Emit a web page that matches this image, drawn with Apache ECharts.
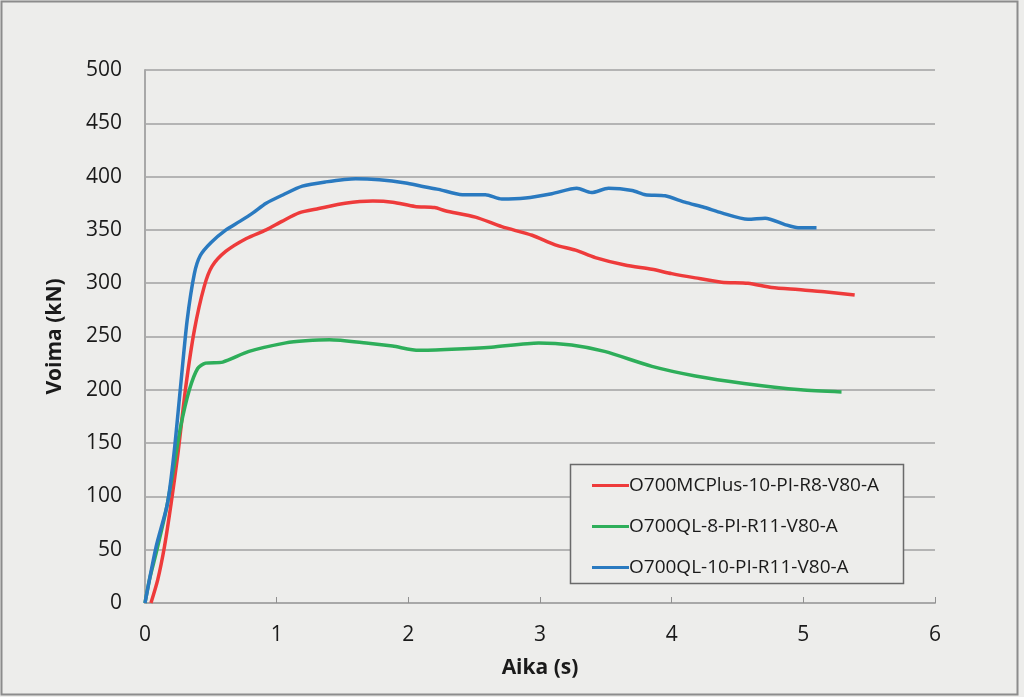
<!DOCTYPE html>
<html>
<head>
<meta charset="utf-8">
<script src="https://cdn.jsdelivr.net/npm/echarts@6/dist/echarts.min.js"></script>
<style>
html,body{margin:0;padding:0;background:#ededeb;}
#c{width:1024px;height:697px;}
</style>
</head>
<body>
<div id="c"></div>
<script>
var seriesNames = ['O700MCPlus-10-PI-R8-V80-A', 'O700QL-8-PI-R11-V80-A', 'O700QL-10-PI-R11-V80-A'];
var xTicks = [0, 1, 2, 3, 4, 5, 6];
var yTicks = [0, 50, 100, 150, 200, 250, 300, 350, 400, 450, 500];

var redT = [0.045, 0.097, 0.148, 0.198, 0.25, 0.31, 0.375, 0.45, 0.51, 0.615, 0.77, 0.92, 1.04, 1.17, 1.32, 1.52, 1.73, 1.88, 2.05, 2.2, 2.28, 2.51, 2.71, 2.94, 3.115, 3.27, 3.42, 3.645, 3.85, 4.0, 4.18, 4.38, 4.58, 4.76, 4.96, 5.16, 5.39];
var redV = [0, 22, 53, 93, 140, 203, 256, 297, 316, 330, 342, 350, 358, 366, 370, 375, 377, 376, 372, 371, 368, 362, 353, 345, 336, 331, 324, 317, 313, 309, 305, 301, 300, 296, 294, 292, 289];

var greenT = [0, 0.034, 0.085, 0.16, 0.22, 0.27, 0.337, 0.40, 0.46, 0.59, 0.79, 1.07, 1.22, 1.40, 1.68, 1.88, 2.08, 2.33, 2.63, 2.99, 3.24, 3.49, 3.85, 4.18, 4.55, 4.98, 5.29];
var greenV = [0, 22, 47, 87, 128, 165, 200, 220, 225, 226, 236, 244, 246, 247, 244, 241, 237, 238, 240, 244, 242, 236, 222, 213, 206, 200, 198];

var blueT = [0, 0.085, 0.17, 0.22, 0.27, 0.32, 0.375, 0.42, 0.5, 0.615, 0.72, 0.82, 0.92, 1.05, 1.195, 1.37, 1.6, 1.78, 1.98, 2.1, 2.23, 2.41, 2.585, 2.71, 2.89, 3.09, 3.28, 3.39, 3.52, 3.7, 3.8, 3.95, 4.1, 4.25, 4.38, 4.58, 4.71, 4.86, 4.96, 5.1];
var blueV = [0, 53, 93, 140, 203, 265, 309, 326, 338, 350, 358, 366, 375, 383, 391, 395, 398, 397, 394, 391, 388, 383, 383, 379, 380, 384, 389, 385, 389, 387, 383, 382, 376, 371, 366, 360, 361, 355, 352, 352];

var colors = ['#ee3b3b', '#2eae5a', '#2a7ac0'];

function pairs(t, v) { return t.map(function (x, i) { return [x, v[i]]; }); }
var allData = [pairs(redT, redV), pairs(greenT, greenV), pairs(blueT, blueV)];

var chart = echarts.init(document.getElementById('c'), null, {renderer: 'canvas'});
var font = '"Open Sans", "Noto Sans", sans-serif';
chart.setOption({
  backgroundColor: '#ededeb',
  animation: false,
  textStyle: {fontFamily: font},
  grid: {left: 145, right: 89, top: 70, bottom: 94},
  graphic: [
    {type: 'rect', shape: {x: 1.5, y: 1.5, width: 1016, height: 693},
     style: {fill: 'none', stroke: '#8c8c8c', lineWidth: 2}, silent: true},
    {type: 'rect', shape: {x: 570.5, y: 464.5, width: 333, height: 119},
     style: {fill: '#ededeb', stroke: '#6a6a6a', lineWidth: 1.5}, z: 10, silent: true}
  ],
  legend: {
    orient: 'vertical',
    left: 587, top: 471,
    itemWidth: 37, itemHeight: 3, itemGap: 22,
    icon: 'rect',
    z: 20,
    textStyle: {fontSize: 19, color: '#1a1a1a', fontFamily: font, padding: [0, 0, 0, -5]},
    data: seriesNames
  },
  xAxis: {
    type: 'value', min: 0, max: 6, interval: 1,
    name: 'Aika (s)', nameLocation: 'middle', nameGap: 55,
    nameTextStyle: {fontSize: 21, fontWeight: 'bold', color: '#1a1a1a'},
    axisLine: {show: true, lineStyle: {color: '#a8a8a8', width: 2}},
    axisTick: {show: true, inside: true, length: 6, lineStyle: {color: '#909090'}},
    axisLabel: {fontSize: 21, color: '#1a1a1a', margin: 22,
      formatter: function (v) { return xTicks.indexOf(v) >= 0 ? String(v) : ''; }},
    splitLine: {show: false}
  },
  yAxis: {
    type: 'value', min: 0, max: 500, interval: 50,
    name: 'Voima (kN)', nameLocation: 'middle', nameGap: 79,
    nameTextStyle: {fontSize: 21, fontWeight: 'bold', color: '#1a1a1a'},
    axisLine: {show: true, lineStyle: {color: '#a8a8a8', width: 2}},
    axisTick: {show: false},
    axisLabel: {fontSize: 21, color: '#1a1a1a', margin: 23,
      formatter: function (v) { return yTicks.indexOf(v) >= 0 ? String(v) : ''; }},
    splitLine: {show: true, lineStyle: {color: '#b4b4b4', width: 2}}
  },
  series: seriesNames.map(function (n, i) {
    return {
      name: n, type: 'line', data: allData[i], showSymbol: false, symbol: 'none',
      smooth: 0.25, color: colors[i],
      lineStyle: {color: colors[i], width: 3.5}
    };
  })
});
</script>
</body>
</html>
